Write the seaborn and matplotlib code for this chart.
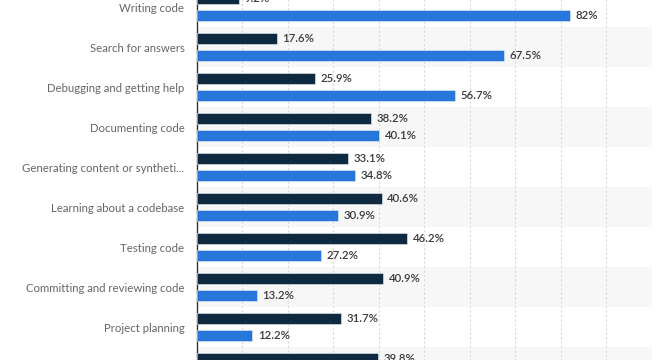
import numpy as np
import pandas as pd
import matplotlib
import matplotlib.pyplot as plt
import seaborn as sns

matplotlib.use('agg')

# Data (top and bottom of the original are cut off)
categories = [
    'Writing code',
    'Search for answers',
    'Debugging and getting help',
    'Documenting code',
    'Generating content or syntheti...',
    'Learning about a codebase',
    'Testing code',
    'Committing and reviewing code',
    'Project planning',
    'Deployment and monitoring',
]
interested = [9.2, 17.6, 25.9, 38.2, 33.1, 40.6, 46.2, 40.9, 31.7, 39.8]
currently_using = [82, 67.5, 56.7, 40.1, 34.8, 30.9, 27.2, 13.2, 12.2, np.nan]
series_names = ['Interested in using', 'Currently using']

dark_blue = '#0f2a40'
blue = '#2676dc'

df = pd.DataFrame({
    'category': categories * 2,
    'value': interested + currently_using,
    'series': [series_names[0]] * len(categories) + [series_names[1]] * len(categories),
})

sns.set_style('white')
plt.rcParams['font.family'] = ['Lato', 'DejaVu Sans']

fig = plt.figure(figsize=(6.7, 3.6), dpi=100)
# axes reaches past the figure edges, because the reference is a crop
ax = fig.add_axes([0.294, -0.075, 0.679, 1.111])

# alternating row bands
for i in range(len(categories)):
    if i % 2 == 1:
        ax.axhspan(i - 0.5, i + 0.5, xmin=0, xmax=1, color='#f7f7f7', zorder=0, lw=0)

sns.barplot(data=df, x='value', y='category', hue='series', order=categories,
            hue_order=series_names, palette=[dark_blue, blue], saturation=1,
            orient='h', width=0.85, gap=0.35, dodge=True, legend=False, ax=ax,
            edgecolor='#e8eef5', linewidth=0.4, zorder=3)

for cont in ax.containers:
    ax.bar_label(cont, labels=[('' if np.isnan(v) else (f'{v:.0f}%' if v == int(v) else f'{v:.1f}%'))
                               for v in cont.datavalues],
                 padding=4, fontsize=8.2, color='#3a3a3a', fontweight='semibold')

ax.set_xlim(0, 100)
ax.set_ylim(len(categories) - 0.5, -0.5)
ax.set_xticks(np.arange(10, 101, 10))
ax.grid(axis='x', color='#d8d8d8', linestyle=(0, (2, 2)), linewidth=0.8, zorder=1)
ax.set_axisbelow(True)
ax.set_xlabel('')
ax.set_ylabel('')
ax.tick_params(axis='y', length=0, pad=9, labelsize=8.2, labelcolor='#666666')
ax.tick_params(axis='x', length=0, labelbottom=False)
for side in ['top', 'right', 'bottom']:
    ax.spines[side].set_visible(False)
ax.spines['left'].set_color('#333333')
ax.spines['left'].set_linewidth(1.0)

plt.savefig('out.png', dpi=100)
plt.close()
